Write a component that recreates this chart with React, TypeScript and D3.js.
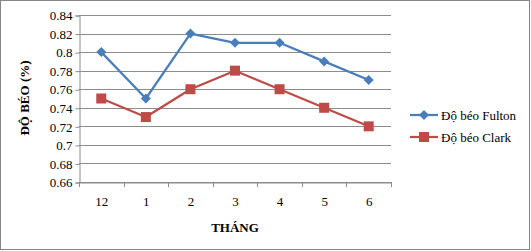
import { useEffect, useRef } from 'react';
import * as d3 from 'd3';

const months = ['12', '1', '2', '3', '4', '5', '6'];
const fulton = [0.8, 0.75, 0.82, 0.81, 0.81, 0.79, 0.77];
const clark = [0.75, 0.73, 0.76, 0.78, 0.76, 0.74, 0.72];
const yTicks = [0.66, 0.68, 0.7, 0.72, 0.74, 0.76, 0.78, 0.8, 0.82, 0.84];
const seriesNames = ['Độ béo Fulton', 'Độ béo Clark'];

const W = 531;
const H = 251;
const FONT = '"Liberation Serif", "Times New Roman", serif';

const App = () => {
  const svgRef = useRef<SVGSVGElement>(null);

  useEffect(() => {
    document.body.style.margin = '0';
    if (!svgRef.current) return;
    const svg = d3.select(svgRef.current);
    svg.selectAll('*').remove();

    const plot = { left: 79, right: 391, top: 15, bottom: 182 };

    svg.append('rect')
      .attr('x', 0.5).attr('y', 0.5)
      .attr('width', W - 2).attr('height', H - 2)
      .attr('fill', '#fff')
      .attr('stroke', '#868686');

    const x = d3.scaleBand().domain(months).range([plot.left, plot.right]);
    const y = d3.scaleLinear().domain([0.66, 0.84]).range([plot.bottom, plot.top]);

    // gridlines
    svg.append('g')
      .selectAll('line')
      .data(yTicks)
      .enter()
      .append('line')
      .attr('x1', plot.left).attr('x2', plot.right)
      .attr('y1', d => Math.round(y(d)) + 0.5).attr('y2', d => Math.round(y(d)) + 0.5)
      .attr('stroke', '#8c8c8c')
      .attr('stroke-width', 1);

    // y axis
    const yAxis = svg.append('g')
      .attr('transform', `translate(${plot.left + 0.5},0.5)`)
      .call(d3.axisLeft(y).tickValues(yTicks).tickSize(4).tickPadding(3).tickFormat(d => String(+d)));
    yAxis.attr('font-family', FONT);
    yAxis.select('.domain').attr('stroke', '#8c8c8c');
    yAxis.selectAll('.tick line').attr('stroke', '#8c8c8c');
    yAxis.selectAll('.tick text')
      .attr('font-family', FONT).attr('font-size', 13).attr('fill', '#000');

    // x axis
    const xAxis = svg.append('g')
      .attr('transform', `translate(0.5,${plot.bottom + 0.5})`)
      .call(d3.axisBottom(x).tickSize(0).tickPadding(14));
    xAxis.attr('font-family', FONT);
    xAxis.select('.domain').attr('stroke', '#8c8c8c');
    xAxis.selectAll('.tick text')
      .attr('font-family', FONT).attr('font-size', 13).attr('fill', '#000');
    const bounds = months.map(m => x(m) as number).concat([plot.right]);
    svg.append('g')
      .selectAll('line')
      .data(bounds)
      .enter()
      .append('line')
      .attr('x1', d => Math.round(d) + 0.5).attr('x2', d => Math.round(d) + 0.5)
      .attr('y1', plot.bottom).attr('y2', plot.bottom + 5)
      .attr('stroke', '#8c8c8c');

    const cx = (m: string) => (x(m) as number) + x.bandwidth() / 2;
    const line = d3.line<number>()
      .x((_, i) => cx(months[i]))
      .y(d => y(d));

    const colors = ['#4a7ebb', '#be4b48'];

    [fulton, clark].forEach((vals, si) => {
      svg.append('path')
        .datum(vals)
        .attr('d', line)
        .attr('fill', 'none')
        .attr('stroke', colors[si])
        .attr('stroke-width', 2.25)
        .attr('stroke-linejoin', 'round');
    });

    const diamond = d3.symbol().type(d3.symbolDiamond2).size(64);
    svg.append('g')
      .selectAll('path')
      .data(fulton)
      .enter()
      .append('path')
      .attr('transform', (d, i) => `translate(${cx(months[i])},${y(d)})`)
      .attr('d', diamond)
      .attr('fill', colors[0]);

    svg.append('g')
      .selectAll('rect')
      .data(clark)
      .enter()
      .append('rect')
      .attr('x', (_, i) => cx(months[i]) - 5)
      .attr('y', d => y(d) - 5)
      .attr('width', 10).attr('height', 10)
      .attr('fill', colors[1]);

    // axis titles
    svg.append('text')
      .attr('x', (plot.left + plot.right) / 2)
      .attr('y', 232)
      .attr('text-anchor', 'middle')
      .attr('font-family', FONT).attr('font-size', 13).attr('font-weight', 'bold')
      .text('THÁNG');

    svg.append('text')
      .attr('transform', 'translate(29,98) rotate(-90)')
      .attr('text-anchor', 'middle')
      .attr('font-family', FONT).attr('font-size', 13).attr('font-weight', 'bold')
      .text('ĐỘ BÉO (%)');

    // legend
    const legend = svg.append('g');
    seriesNames.forEach((name, i) => {
      const ly = 115 + i * 22;
      legend.append('line')
        .attr('x1', 410).attr('x2', 438)
        .attr('y1', ly).attr('y2', ly)
        .attr('stroke', colors[i]).attr('stroke-width', 2.25);
      if (i === 0) {
        legend.append('path')
          .attr('transform', `translate(424,${ly})`)
          .attr('d', diamond)
          .attr('fill', colors[i]);
      } else {
        legend.append('rect')
          .attr('x', 419).attr('y', ly - 5)
          .attr('width', 10).attr('height', 10)
          .attr('fill', colors[i]);
      }
      legend.append('text')
        .attr('x', 441).attr('y', ly + 4.5)
        .attr('font-family', FONT).attr('font-size', 13)
        .text(name);
    });
  }, []);

  return <svg ref={svgRef} width={W} height={H} style={{ display: 'block' }}></svg>;
};

export default App;
